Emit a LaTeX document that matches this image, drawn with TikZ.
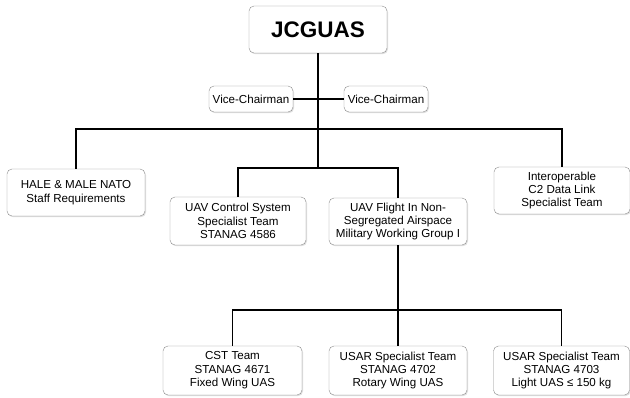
\documentclass[tikz,border=0pt]{standalone}
\usepackage{fontspec}
\setmainfont{Liberation Sans}
\usetikzlibrary{positioning,shadows}

\tikzset{
  box/.style={draw=black!45, fill=white, rounded corners=5pt, align=center,
    inner sep=0pt, font=\fontsize{11.6}{13.4}\selectfont,
    drop shadow={opacity=0.25, shadow xshift=1pt, shadow yshift=-1.2pt}},
  conn/.style={line width=1.8pt, black}
}

\begin{document}
\begin{tikzpicture}[x=1pt,y=-1pt]
\useasboundingbox (0,0) rectangle (630,398);

\node[box, minimum width=138pt, minimum height=47pt, font=\fontsize{22.5}{26}\selectfont\bfseries] (top) at (318,29.5) {JCGUAS};

\node[box, minimum width=84pt, minimum height=26pt] (vcl) at (251,99) {Vice-Chairman};
\node[box, minimum width=84pt, minimum height=26pt] (vcr) at (386,99) {Vice-Chairman};

\node[box, minimum width=138pt, minimum height=47pt] (hale) at (76,192.5) {HALE \& MALE NATO\\Staff Requirements};
\node[box, minimum width=136pt, minimum height=48pt] (ctrl) at (238,221) {UAV Control System\\Specialist Team\\STANAG 4586};
\node[box, minimum width=138pt, minimum height=47pt] (flight) at (398,221.5) {UAV Flight In Non-\\Segregated Airspace\\Military Working Group I};
\node[box, minimum width=136pt, minimum height=47pt] (interop) at (562,190.5) {Interoperable\\C2 Data Link\\Specialist Team};

\node[box, minimum width=139pt, minimum height=49pt] (cst) at (232.5,370.5) {CST Team\\STANAG 4671\\Fixed Wing UAS};
\node[box, minimum width=138pt, minimum height=49pt] (usar1) at (398,370.5) {USAR Specialist Team\\STANAG 4702\\Rotary Wing UAS};
\node[box, minimum width=136pt, minimum height=49pt] (usar2) at (561.5,370.5) {USAR Specialist Team\\STANAG 4703\\Light UAS ≤ 150 kg};

\coordinate (b1) at (318,129);
\coordinate (b2) at (318,168);
\coordinate (b3) at (398,310);

\draw[conn] (top.south) -- (b2);
\draw[conn] (vcl) -- (vcr);
\draw[conn] (hale.north) |- (b1) -| (interop.north);
\draw[conn] (ctrl.north) |- (b2) -| (flight.north);
\draw[conn] (flight.south) -- (usar1.north);
\draw[conn] (cst.north) |- (b3) -| (usar2.north);

\end{tikzpicture}
\end{document}
